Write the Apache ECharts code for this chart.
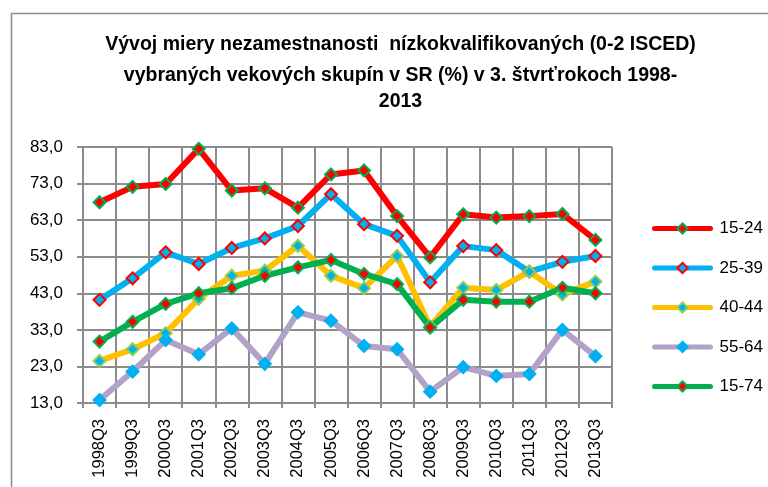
<!DOCTYPE html>
<html>
<head>
<meta charset="utf-8">
<script src="https://cdn.jsdelivr.net/npm/echarts@6/dist/echarts.min.js"></script>
<style>
  html, body { margin: 0; padding: 0; background: #fff; }
  #chart { width: 768px; height: 487px; }
</style>
</head>
<body>
<div id="chart"></div>
<script>
const categories = ["1998Q3", "1999Q3", "2000Q3", "2001Q3", "2002Q3", "2003Q3", "2004Q3", "2005Q3",
  "2006Q3", "2007Q3", "2008Q3", "2009Q3", "2010Q3", "2011Q3", "2012Q3", "2013Q3"];
const age1524 = [67.9, 72.1, 72.9, 82.5, 71.1, 71.7, 66.4, 75.5, 76.6, 64.1, 52.8, 64.6, 63.7, 64.1, 64.7, 57.6];
const age2539 = [41.2, 47.1, 54.2, 51.0, 55.4, 58.0, 61.4, 70.1, 61.9, 58.7, 46.0, 55.9, 54.8, 48.9, 51.6, 53.2];
const age4044 = [24.5, 27.7, 32.1, 41.5, 47.8, 49.2, 56.0, 47.8, 44.4, 53.2, 33.9, 44.5, 43.9, 48.9, 42.7, 46.2];
const age5564 = [13.8, 21.6, 30.2, 26.3, 33.4, 23.7, 37.8, 35.5, 28.6, 27.7, 16.1, 22.8, 20.4, 20.9, 33.0, 25.8];
const age1574 = [29.8, 35.2, 40.1, 43.0, 44.4, 47.8, 50.1, 52.1, 48.3, 45.5, 33.6, 41.2, 40.7, 40.7, 44.5, 43.0];
const titleLines = [
  "Vývoj miery nezamestnanosti  nízkokvalifikovaných (0-2 ISCED)",
  "vybraných vekových skupín v SR (%) v 3. štvrťrokoch 1998-",
  "2013"
];

const chart = echarts.init(document.getElementById("chart"));

function makeSeries(name, data, lineColor, fill, border) {
  return {
    name: name,
    type: "line",
    data: data,
    symbol: "diamond",
    symbolSize: 12,
    lineStyle: { color: lineColor, width: 6 },
    itemStyle: { color: fill, borderColor: border, borderWidth: 2 },
    emphasis: { disabled: true },
    animation: false
  };
}

const titleY = [45, 76, 102];
const titleText = titleLines.map(function (t, i) {
  return {
    type: "text",
    x: 400.5,
    y: titleY[i],
    silent: true,
    style: {
      text: t,
      fill: "#000",
      font: "bold 19.5px 'Liberation Sans'",
      align: "center",
      verticalAlign: "middle"
    }
  };
});

chart.setOption({
  graphic: [{
    type: "rect",
    shape: { x: 11.5, y: 13.5, width: 800, height: 600 },
    style: { fill: "none", stroke: "#8c8c8c", lineWidth: 1.5 },
    silent: true
  }].concat(titleText),
  legend: {
    orient: "vertical",
    left: 647,
    top: 215,
    itemWidth: 56,
    itemHeight: 13,
    itemGap: 22.5,
    lineStyle: { width: 5, cap: "round" },
    textStyle: { fontFamily: "Liberation Sans", fontSize: 17, color: "#000", padding: [0, 0, 0, 4] },
    data: ["15-24", "25-39", "40-44", "55-64", "15-74"]
  },
  grid: { left: 83, right: 156, top: 147, bottom: 84 },
  xAxis: {
    type: "category",
    data: categories,
    boundaryGap: true,
    axisLine: { lineStyle: { color: "#8c8c8c", width: 2 } },
    axisTick: { show: true, length: 5, lineStyle: { color: "#8c8c8c", width: 2 } },
    splitLine: { show: true, lineStyle: { color: "#8c8c8c", width: 2 } },
    axisLabel: {
      rotate: 90,
      margin: 16,
      fontFamily: "Liberation Sans",
      fontSize: 16.5,
      color: "#000",
      interval: 0
    }
  },
  yAxis: {
    type: "value",
    min: 13,
    max: 83,
    interval: 10,
    axisLine: { show: true, lineStyle: { color: "#8c8c8c", width: 2 } },
    axisTick: { show: true, length: 6, lineStyle: { color: "#8c8c8c", width: 2 } },
    splitLine: { show: true, lineStyle: { color: "#8c8c8c", width: 2 } },
    axisLabel: {
      margin: 20,
      fontFamily: "Liberation Sans",
      fontSize: 17,
      color: "#000",
      formatter: function (v) { return v.toFixed(1).replace(".", ","); }
    }
  },
  series: [
    makeSeries("15-24", age1524, "#ff0000", "#ff0000", "#00b050"),
    makeSeries("25-39", age2539, "#00b0f0", "#00b0f0", "#ff0000"),
    makeSeries("40-44", age4044, "#ffc000", "#00b0f0", "#92d050"),
    makeSeries("55-64", age5564, "#b3a2c7", "#00b0f0", "#00b0f0"),
    makeSeries("15-74", age1574, "#00b050", "#ff0000", "#00b050")
  ]
});
</script>
</body>
</html>
